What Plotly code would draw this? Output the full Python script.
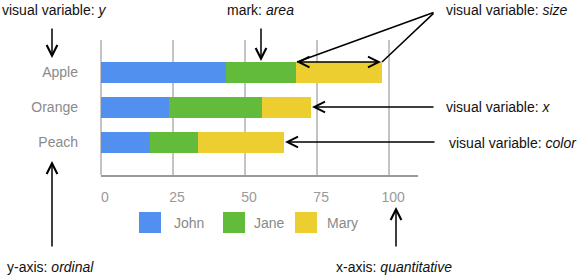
import plotly.graph_objects as go

# ---- data ----
fruits = ["Apple", "Orange", "Peach"]
people = ["John", "Jane", "Mary"]
john = [43.5, 23.5, 17.0]
jane = [24.0, 32.5, 16.5]
mary = [30.0, 17.0, 30.0]
x_ticks = [0, 25, 50, 75, 100]

# ---- style ----
colors = ["#5290EF", "#63BB3B", "#ECCE31"]
FONT = "Liberation Sans, Arial, sans-serif"
W, H = 581, 276
L, R, T, B = 101, 418, 40, 175  # plot area in pixels


def P(px, py):
    return (px - L) / (R - L), (B - py) / (B - T)


fig = go.Figure()
for name, vals, c in zip(people, [john, jane, mary], colors):
    fig.add_trace(go.Bar(y=fruits, x=vals, name=name, orientation="h",
                         marker=dict(color=c, line=dict(width=0)),
                         width=0.6, showlegend=False, hoverinfo="skip"))

annotations = []
shapes = []

# legend drawn manually (big square swatches)
sw_x = [139, 223, 295]
tx_x = [172, 252, 325]
for name, c, sx, tx in zip(people, colors, sw_x, tx_x):
    x0, y0 = P(sx, 233)
    x1, y1 = P(sx + 22, 212)
    shapes.append(dict(type="rect", xref="paper", yref="paper", x0=x0, y0=y0,
                       x1=x1, y1=y1, fillcolor=c, line=dict(width=0)))
    ax, ay = P(tx, 223)
    annotations.append(dict(xref="paper", yref="paper", x=ax, y=ay, text=name,
                            showarrow=False, xanchor="left", yanchor="middle",
                            font=dict(family=FONT, size=14, color="#8a8a8a")))

# text labels
labels = [
    ("visual variable: <i>y</i>", 0, 10, "left"),
    ("mark: <i>area</i>", 260, 10, "center"),
    ("visual variable: <i>size</i>", 444, 10, "left"),
    ("visual variable: <i>x</i>", 444, 107, "left"),
    ("visual variable: <i>color</i>", 447, 143, "left"),
    ("y-axis: <i>ordinal</i>", 5, 267, "left"),
    ("x-axis: <i>quantitative</i>", 334, 267, "left"),
]
for txt, px, py, anc in labels:
    x, y = P(px, py)
    annotations.append(dict(xref="paper", yref="paper", x=x, y=y, text=txt,
                            showarrow=False, xanchor=anc, yanchor="middle",
                            font=dict(family=FONT, size=14, color="#111")))

# arrows: (tip_x, tip_y, tail_x, tail_y, head, side)
arrows = [
    (52, 58, 52, 27, 5, "end"),
    (261, 61, 261, 27, 5, "end"),
    (312, 107, 435, 107, 5, "end"),
    (285, 142, 436, 142, 5, "end"),
    (52, 161, 52, 248, 5, "end"),
    (396, 207, 396, 248, 5, "end"),
    (297, 62, 435, 12, 0, "end"),
    (382, 62, 435, 12, 0, "end"),
    (381, 62, 295, 62, 5, "end+start"),
]
for hx, hy, tx, ty, head, side in arrows:
    x, y = P(hx, hy)
    annotations.append(dict(xref="paper", yref="paper", x=x, y=y, text="",
                            showarrow=True, ax=tx - hx, ay=ty - hy,
                            axref="pixel", ayref="pixel",
                            arrowhead=head, startarrowhead=head,
                            arrowside=side, arrowsize=1.4, startarrowsize=1.4,
                            arrowwidth=1.5, arrowcolor="#000", standoff=0,
                            startstandoff=0))

fig.update_layout(
    width=W, height=H, barmode="stack",
    margin=dict(l=L, r=W - R, t=T, b=H - B, pad=0),
    paper_bgcolor="white", plot_bgcolor="white",
    showlegend=False, bargap=0.4,
    font=dict(family=FONT, size=14, color="#888"),
    annotations=annotations, shapes=shapes,
    xaxis=dict(range=[0, 110], tickvals=x_ticks, ticktext=[str(v) for v in x_ticks],
               showgrid=True, gridcolor="#c4c4c4", gridwidth=1.5,
               zeroline=True, zerolinecolor="#c4c4c4", zerolinewidth=1.5,
               showline=True, linecolor="#9a9a9a", linewidth=1.5,
               ticks="", ticklabelstandoff=8, ticklabelshift=4,
               tickfont=dict(family=FONT, size=14, color="#9a9a9a"),
               fixedrange=True),
    yaxis=dict(type="category", categoryorder="array", categoryarray=fruits,
               range=[2.93, -0.93], showgrid=False, zeroline=False,
               showline=False, ticks="", ticklabelstandoff=22,
               tickfont=dict(family=FONT, size=14, color="#8a8a8a"),
               fixedrange=True),
)

fig.write_html("out.html")
